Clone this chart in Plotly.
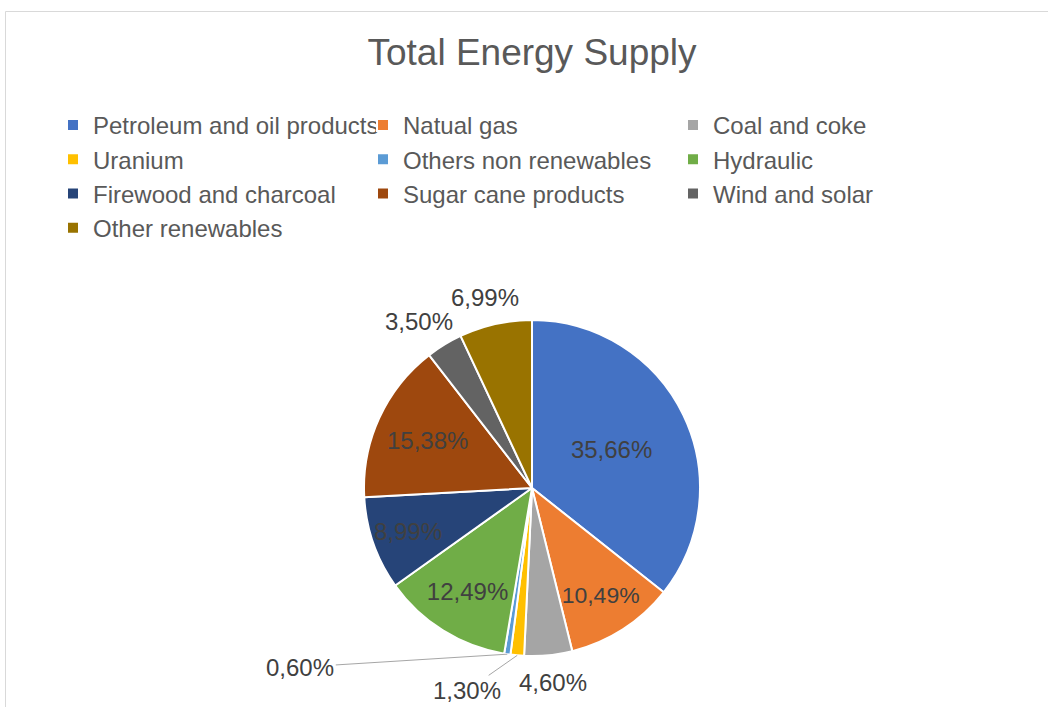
import math
import plotly.graph_objects as go

# Shares of total energy supply, in percent
sources = [
    "Petroleum and oil products", "Natual gas", "Coal and coke",
    "Uranium", "Others non renewables", "Hydraulic",
    "Firewood and charcoal", "Sugar cane products", "Wind and solar",
    "Other renewables",
]
shares = [35.66, 10.49, 4.60, 1.30, 0.60, 12.49, 8.99, 15.38, 3.50, 6.99]
colors = [
    "#4472C4", "#ED7D31", "#A5A5A5", "#FFC000", "#5B9BD5",
    "#70AD47", "#264478", "#9E480E", "#636363", "#997300",
]
# where each slice's percentage is written: inside the slice, next to it,
# or off to the side with a leader line (pixel offset of the label)
label_mode = ["inside", "inside", "outside", "leader", "leader",
              "inside", "inside", "inside", "outside", "outside"]
leader_offsets = {3: (-50, 35), 4: (-207, 13)}

W, H = 1048, 707
cx, cy, r = 532, 488, 168
FONT = "Liberation Sans, Arial"
TXT = "#404040"
LABEL_HALF_W, LABEL_HALF_H, LABEL_GAP = 34, 12, 15


def pct_text(v):
    return f"{v:.2f}%".replace(".", ",")


fig = go.Figure(
    go.Pie(
        labels=sources,
        values=shares,
        sort=False,
        direction="clockwise",
        rotation=0,
        marker=dict(colors=colors, line=dict(color="white", width=2)),
        texttemplate="%{percent:.2%}",
        textposition=["inside" if m == "inside" else "none" for m in label_mode],
        insidetextorientation="horizontal",
        textfont=dict(family=FONT, size=24, color=TXT),
        hoverinfo="label+percent",
        domain=dict(
            x=[(cx - r) / W, (cx + r) / W],
            y=[1 - (cy + r) / H, 1 - (cy - r) / H],
        ),
    )
)

# labels for the small slices, placed off each slice's mid-angle
total = sum(shares)
annotations = []
cum = 0.0
for i, v in enumerate(shares):
    theta = 2 * math.pi * (cum + v / 2) / total  # clockwise from 12 o'clock
    cum += v
    s, c = math.sin(theta), math.cos(theta)
    ex, ey = cx + r * s, cy - r * c  # point on the rim
    if label_mode[i] == "outside":
        px = ex + LABEL_GAP * s + LABEL_HALF_W * s
        py = ey - LABEL_GAP * c - LABEL_HALF_H * c
        annotations.append(dict(
            x=px / W, y=1 - py / H, xref="paper", yref="paper",
            text=pct_text(v), showarrow=False,
            xanchor="center", yanchor="middle",
            font=dict(family=FONT, size=24, color=TXT),
        ))
    elif label_mode[i] == "leader":
        ax, ay = leader_offsets[i]
        annotations.append(dict(
            x=ex / W, y=1 - ey / H, xref="paper", yref="paper",
            text=pct_text(v), showarrow=True, arrowhead=0,
            arrowwidth=1, arrowcolor="#A6A6A6", standoff=0,
            ax=ax, ay=ay,
            font=dict(family=FONT, size=24, color=TXT),
        ))

fig.update_layout(
    width=W,
    height=H,
    margin=dict(l=0, r=0, t=0, b=0),
    separators=",.",
    paper_bgcolor="white",
    font=dict(family=FONT, color="#595959"),
    title=dict(
        text="Total Energy Supply",
        x=cx / W, xanchor="center",
        y=1 - 52 / H, yanchor="middle",
        font=dict(size=37, color="#595959"),
    ),
    legend=dict(
        orientation="h",
        x=53 / W, xanchor="left",
        y=1 - 103 / H, yanchor="top",
        entrywidth=265, entrywidthmode="pixels",
        font=dict(size=24, color="#595959"),
        traceorder="normal",
        bgcolor="rgba(0,0,0,0)",
    ),
    annotations=annotations,
    shapes=[
        dict(
            type="rect", xref="paper", yref="paper",
            x0=5.5 / W, x1=1.02, y0=-0.02, y1=1 - 11.5 / H,
            line=dict(color="#D9D9D9", width=1),
        )
    ],
)

fig.write_html("out.html")
